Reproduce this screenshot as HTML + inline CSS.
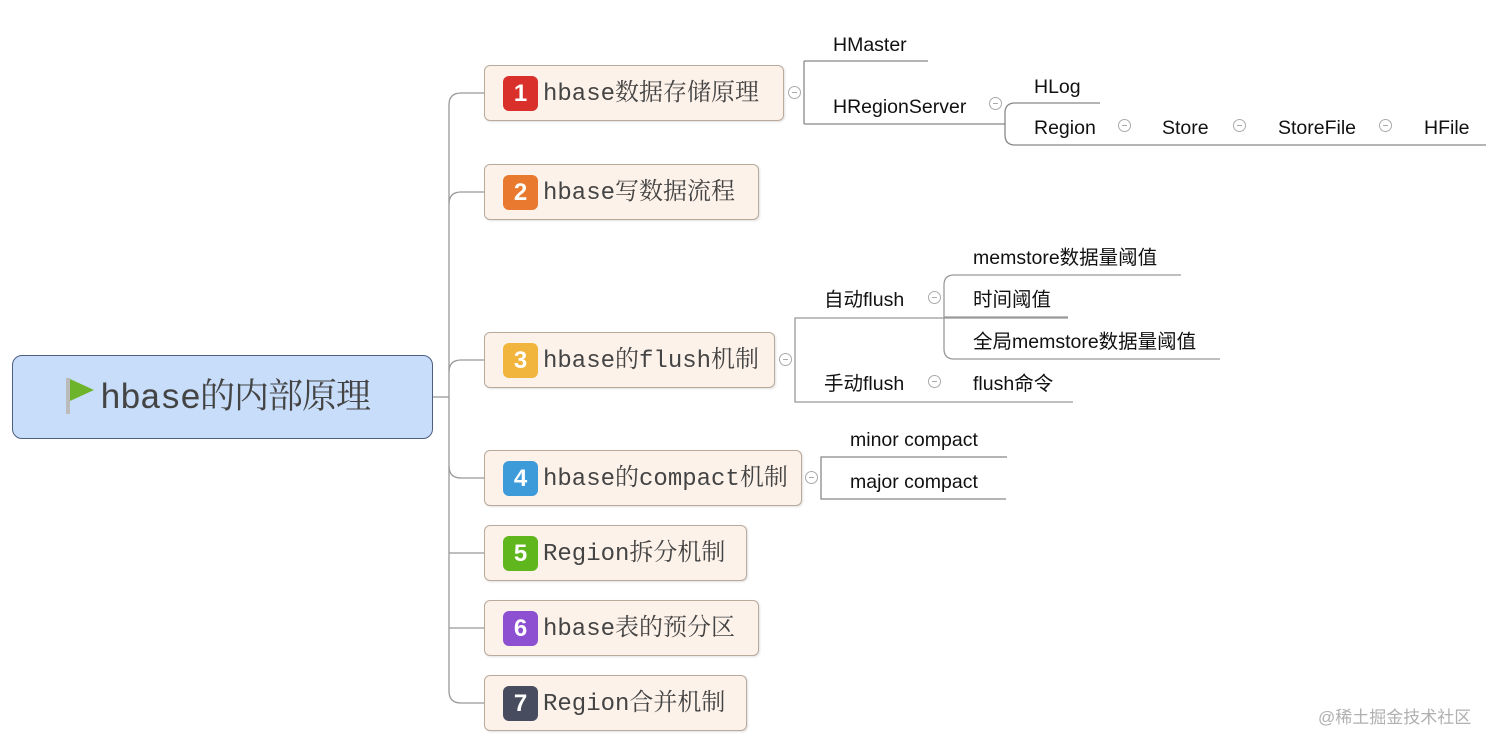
<!DOCTYPE html>
<html><head><meta charset="utf-8">
<style>
body{margin:0;width:1501px;height:745px;background:#fff;position:relative;overflow:hidden;font-family:"Liberation Sans","Noto Sans CJK SC",sans-serif;}
.n{position:absolute;left:484px;height:56px;background:#fdf2ea;border:1px solid #b9aa9c;border-radius:6px;box-shadow:1px 1px 2px rgba(0,0,0,.12);box-sizing:border-box;}
.b{position:absolute;left:18px;top:10px;width:35px;height:35px;border-radius:6px;color:#fff;font:bold 24px "Liberation Sans",sans-serif;text-align:center;line-height:35px;}
.t{position:absolute;left:58px;top:0;line-height:58px;font-size:24px;color:#444;font-family:"Liberation Mono","Noto Serif CJK SC",monospace;white-space:nowrap;}
.s{position:absolute;font-size:19.5px;color:#111;white-space:nowrap;line-height:22px;}
.c{position:absolute;width:13px;height:13px;border:1px solid #aaa;border-radius:50%;box-sizing:border-box;background:#fff;}
.c:after{content:"";position:absolute;left:3px;right:3px;top:5px;height:1px;background:#aaa;}
</style></head><body>
<svg width="1501" height="745" style="position:absolute;left:0;top:0" fill="none" stroke="#999" stroke-width="1.3">
<path d="M433,397 H449"/>
<path d="M484,93 H461 Q449,93 449,105 V691 Q449,703 461,703 H484"/>
<path d="M484,192 H461 Q449,192 449,204"/>
<path d="M484,360 H461 Q449,360 449,372"/>
<path d="M484,478 H461 Q449,478 449,466"/>
<path d="M484,553 H449"/><path d="M484,628 H449"/>
<path d="M804,61 V124" stroke="#888"/>
<path d="M804,61 H928 M804,124 H1005" stroke="#888"/>
<path d="M1100,103 H1015 Q1005,103 1005,113 V135 Q1005,145 1015,145 H1486" stroke="#888"/>
<path d="M1181,275 H954 Q944,275 944,285 V349 Q944,359 954,359 H1220 M944,317 H1068" stroke="#999"/>
<path d="M1068,318 H795 V402 H1073" stroke="#999"/>
<path d="M1007,457 H821 V499 H1006" stroke="#888"/>
</svg>
<div style="position:absolute;left:12px;top:355px;width:421px;height:84px;background:#c8ddf9;border:1px solid #4e5e80;border-radius:10px;box-sizing:border-box;"></div>
<div style="position:absolute;left:66px;top:378px;width:4px;height:36px;background:#bbb;"></div>
<div style="position:absolute;left:70px;top:379px;width:0;height:0;border-left:24px solid #6db42a;border-top:11px solid transparent;border-bottom:11px solid transparent;"></div>
<div style="position:absolute;left:100px;top:376px;font-size:35px;color:#444;line-height:46px;font-family:'Liberation Mono','Noto Serif CJK SC',serif;white-space:nowrap;letter-spacing:-1px;">hbase的内部原理</div>

<div class="n" style="top:65px;width:300px"><div class="b" style="background:#d9302b">1</div><div class="t">hbase数据存储原理</div></div>
<div class="n" style="top:164px;width:275px"><div class="b" style="background:#e8792f">2</div><div class="t">hbase写数据流程</div></div>
<div class="n" style="top:332px;width:291px"><div class="b" style="background:#f1b53d">3</div><div class="t">hbase的flush机制</div></div>
<div class="n" style="top:450px;width:318px"><div class="b" style="background:#3d9bd9">4</div><div class="t">hbase的compact机制</div></div>
<div class="n" style="top:525px;width:263px"><div class="b" style="background:#5fb61d">5</div><div class="t">Region拆分机制</div></div>
<div class="n" style="top:600px;width:275px"><div class="b" style="background:#8c50d1">6</div><div class="t">hbase表的预分区</div></div>
<div class="n" style="top:675px;width:263px"><div class="b" style="background:#474d5e">7</div><div class="t">Region合并机制</div></div>

<div class="c" style="left:788px;top:86px"></div>
<div class="s" style="left:833px;top:34px">HMaster</div>
<div class="s" style="left:833px;top:96px">HRegionServer</div>
<div class="c" style="left:989px;top:97px"></div>
<div class="s" style="left:1034px;top:76px">HLog</div>
<div class="s" style="left:1034px;top:117px">Region</div>
<div class="c" style="left:1118px;top:119px"></div>
<div class="s" style="left:1162px;top:117px">Store</div>
<div class="c" style="left:1233px;top:119px"></div>
<div class="s" style="left:1278px;top:117px">StoreFile</div>
<div class="c" style="left:1379px;top:119px"></div>
<div class="s" style="left:1424px;top:117px">HFile</div>

<div class="c" style="left:779px;top:353px"></div>
<div class="s" style="left:824px;top:289px">自动flush</div>
<div class="c" style="left:928px;top:291px"></div>
<div class="s" style="left:973px;top:247px">memstore数据量阈值</div>
<div class="s" style="left:973px;top:289px">时间阈值</div>
<div class="s" style="left:973px;top:331px">全局memstore数据量阈值</div>
<div class="s" style="left:824px;top:373px">手动flush</div>
<div class="c" style="left:928px;top:375px"></div>
<div class="s" style="left:973px;top:373px">flush命令</div>

<div class="c" style="left:805px;top:471px"></div>
<div class="s" style="left:850px;top:429px">minor compact</div>
<div class="s" style="left:850px;top:471px">major compact</div>

<div style="position:absolute;left:1318px;top:703px;font-size:17px;color:#b0b0b0;white-space:nowrap;">@稀土掘金技术社区</div>
</body></html>
